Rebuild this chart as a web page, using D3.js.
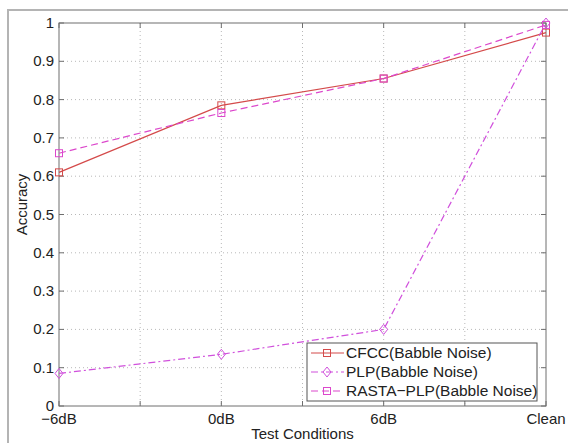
<!DOCTYPE html>
<html><head><meta charset="utf-8">
<script src="https://cdn.jsdelivr.net/npm/d3@7"></script>
<style>body{margin:0;background:#fff;}svg{display:block;font-family:"Liberation Sans",Arial,sans-serif;}</style>
</head><body>
<svg id="c" width="568" height="443"></svg>
<script>
const categories = ["-6dB", "0dB", "6dB", "Clean"];
const cfcc = [0.61, 0.785, 0.855, 0.975];
const plp = [0.085, 0.135, 0.2, 1.0];
const rasta = [0.66, 0.765, 0.855, 0.995];
const seriesNames = ["CFCC(Babble Noise)", "PLP(Babble Noise)", "RASTA\u2212PLP(Babble Noise)"];
const yTicks = [0, 0.1, 0.2, 0.3, 0.4, 0.5, 0.6, 0.7, 0.8, 0.9, 1];
const xTickPos = [0, 1, 2, 3, 4, 5, 6];

const svg = d3.select("#c");
const L = 59, R = 546, T = 23, B = 406;
const x = d3.scaleLinear().domain([0, 6]).range([L, R]);
const y = d3.scaleLinear().domain([0, 1]).range([B, T]);
const catX = i => x(i * 2);

// outer frame
svg.append("rect").attr("x", 8).attr("y", 10).attr("width", 580).attr("height", 450)
  .attr("fill", "none").attr("stroke", "#b4b4b4").attr("stroke-width", 2);

// grid
const g = svg.append("g");
g.selectAll(".gx").data(xTickPos.slice(1, -1)).enter().append("line")
  .attr("x1", d => x(d)).attr("x2", d => x(d)).attr("y1", T).attr("y2", B)
  .attr("stroke", "#b8b8b8").attr("stroke-width", 1).attr("stroke-dasharray", "1,3");
g.selectAll(".gy").data(yTicks.slice(1, -1)).enter().append("line")
  .attr("x1", L).attr("x2", R).attr("y1", d => y(d)).attr("y2", d => y(d))
  .attr("stroke", "#b8b8b8").attr("stroke-width", 1).attr("stroke-dasharray", "1,3");

// axes box
const axCol = "#6e6e6e";
svg.append("rect").attr("x", L).attr("y", T).attr("width", R - L).attr("height", B - T)
  .attr("fill", "none").attr("stroke", axCol).attr("stroke-width", 1);

// ticks inward
const tl = 5;
xTickPos.forEach(d => {
  svg.append("line").attr("x1", x(d)).attr("x2", x(d)).attr("y1", B).attr("y2", B - tl).attr("stroke", axCol);
  svg.append("line").attr("x1", x(d)).attr("x2", x(d)).attr("y1", T).attr("y2", T + tl).attr("stroke", axCol);
});
yTicks.forEach(d => {
  svg.append("line").attr("x1", L).attr("x2", L + tl).attr("y1", y(d)).attr("y2", y(d)).attr("stroke", axCol);
  svg.append("line").attr("x1", R).attr("x2", R - tl).attr("y1", y(d)).attr("y2", y(d)).attr("stroke", axCol);
});

// tick labels
const fs = 15;
svg.selectAll(".yl").data(yTicks).enter().append("text")
  .attr("x", L - 5).attr("y", d => y(d) + 5).attr("text-anchor", "end")
  .attr("font-size", fs).attr("fill", "#222").text(d => d === 0 ? "0" : d === 1 ? "1" : d3.format(".1f")(d));
svg.selectAll(".xl").data(categories).enter().append("text")
  .attr("x", (d, i) => catX(i)).attr("y", B + 18).attr("text-anchor", "middle")
  .attr("font-size", fs).attr("fill", "#222").text(d => d.replace("-", "\u2212"));

// axis titles
svg.append("text").attr("x", (L + R) / 2).attr("y", B + 33).attr("text-anchor", "middle")
  .attr("font-size", fs).attr("fill", "#222").text("Test Conditions");
svg.append("text").attr("transform", `translate(27,${(T + B) / 2 - 10}) rotate(-90)`)
  .attr("text-anchor", "middle").attr("font-size", fs).attr("fill", "#222").text("Accuracy");

// series
const series = [
  {name: seriesNames[0], vals: cfcc, color: "#d44a4a", dash: null, marker: "square"},
  {name: seriesNames[1], vals: plp, color: "#d050dc", dash: "7,3,2,3", marker: "diamond"},
  {name: seriesNames[2], vals: rasta, color: "#dc48cc", dash: "7,4", marker: "square"}
];
const line = d3.line().x((d, i) => catX(i)).y(d => y(d));
function marker(sel, type, cx, cy, color) {
  if (type === "square") {
    sel.append("rect").attr("x", cx - 3.5).attr("y", cy - 3.5).attr("width", 7).attr("height", 7)
      .attr("fill", "none").attr("stroke", color).attr("stroke-width", 1);
  } else {
    sel.append("path").attr("d", `M${cx},${cy - 5}L${cx + 4},${cy}L${cx},${cy + 5}L${cx - 4},${cy}Z`)
      .attr("fill", "none").attr("stroke", color).attr("stroke-width", 1);
  }
}
series.forEach(s => {
  svg.append("path").datum(s.vals).attr("d", line).attr("fill", "none")
    .attr("stroke", s.color).attr("stroke-width", 1.2).attr("stroke-dasharray", s.dash);
  s.vals.forEach((v, i) => marker(svg, s.marker, catX(i), y(v), s.color));
});

// legend
const lx = 307, ly = 343, lw = 230, lh = 58;
svg.append("rect").attr("x", lx).attr("y", ly).attr("width", lw).attr("height", lh)
  .attr("fill", "#fff").attr("stroke", "#555").attr("stroke-width", 1);
series.forEach((s, i) => {
  const yy = ly + 10 + i * 19;
  svg.append("line").attr("x1", lx + 4).attr("x2", lx + 37).attr("y1", yy).attr("y2", yy)
    .attr("stroke", s.color).attr("stroke-width", 1.2).attr("stroke-dasharray", s.dash);
  marker(svg, s.marker, lx + 20, yy, s.color);
  svg.append("text").attr("x", lx + 39).attr("y", yy + 5).attr("font-size", 15.5).attr("fill", "#222").text(s.name);
});
</script>
</body></html>
